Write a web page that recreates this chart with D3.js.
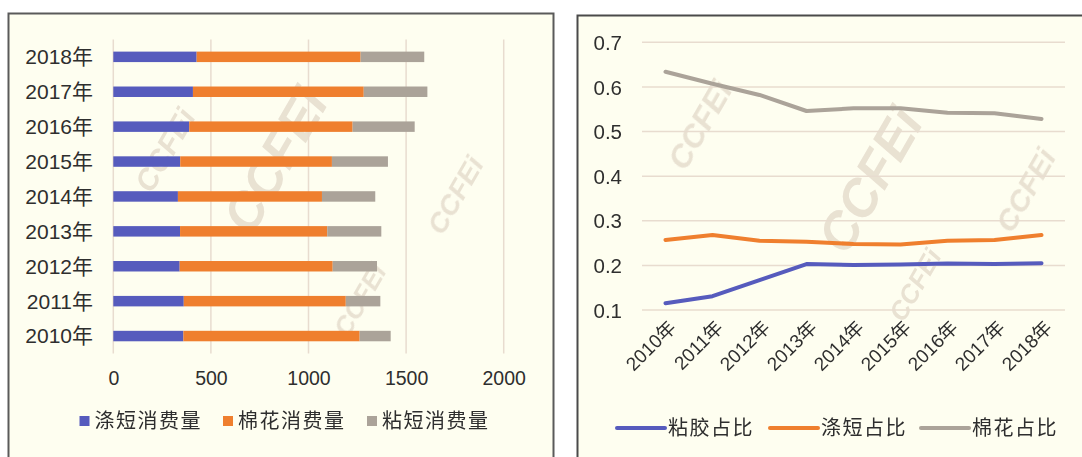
<!DOCTYPE html>
<html><head><meta charset="utf-8">
<script src="https://cdn.jsdelivr.net/npm/d3@7"></script>
<style>
html,body{margin:0;padding:0;background:#fff;}
svg{display:block;font-family:"Liberation Sans","Noto Sans CJK SC",Arial,sans-serif;}
</style></head>
<body>
<svg id="c" width="1082" height="457"></svg>
<script>
// ---- data ----
const years = ["2010年","2011年","2012年","2013年","2014年","2015年","2016年","2017年","2018年"];
const polyester = [359, 361, 340, 342, 331, 343, 389, 408, 427];   // 涤短消费量
const cotton    = [903, 830, 784, 754, 738, 777, 837, 875, 840];   // 棉花消费量
const viscose   = [159, 177, 227, 277, 273, 287, 318, 326, 326];   // 粘短消费量
const barSeries = ["涤短消费量","棉花消费量","粘短消费量"];
const barTicks = [0, 500, 1000, 1500, 2000];

const viscoseShare   = [0.115, 0.131, 0.167, 0.203, 0.201, 0.202, 0.204, 0.203, 0.205]; // 粘胶占比
const polyesterShare = [0.257, 0.268, 0.255, 0.253, 0.248, 0.247, 0.255, 0.257, 0.268]; // 涤短占比
const cottonShare    = [0.634, 0.607, 0.582, 0.546, 0.552, 0.552, 0.542, 0.541, 0.528]; // 棉花占比
const lineSeries = ["粘胶占比","涤短占比","棉花占比"];
const lineTicks = [0.1, 0.2, 0.3, 0.4, 0.5, 0.6, 0.7];

const colors = ["#565bbd", "#ef7f2e", "#aba399"];
const textColor = "#2e2e2e";
const gridColor = "#e8dccf";
const panelFill = "#fefef0";

const svg = d3.select("#c");

// panels
svg.append("rect").attr("x",8.5).attr("y",13.5).attr("width",545).attr("height",460)
  .attr("fill",panelFill).attr("stroke","#5a5a5a").attr("stroke-width",2);
svg.append("rect").attr("x",577.5).attr("y",15.5).attr("width",520).attr("height",460)
  .attr("fill",panelFill).attr("stroke","#4a4a4a").attr("stroke-width",2);

// watermarks
const wm = svg.append("g").attr("fill","#d8cabb").attr("opacity",0.55)
  .attr("font-weight","bold").attr("font-style","italic").attr("font-family","Liberation Sans, Arial, sans-serif");
const marks = [
  [165,150,30],[275,160,52],[455,195,28],[360,300,26],
  [700,125,32],[870,180,52],[1025,190,30],[915,285,26]
];
marks.forEach(m=>{
  wm.append("text").attr("transform",`translate(${m[0]},${m[1]}) rotate(-60)`)
    .attr("text-anchor","middle").attr("dy","0.35em").attr("font-size",m[2]).text("CCFEi");
});

// ---- left: stacked bar chart ----
const x = d3.scaleLinear().domain([0,2000]).range([113.3,503.7]);
const y = d3.scaleBand().domain(years.slice().reverse()).range([39.4,353.5]).paddingInner(0.7).paddingOuter(0.35);

const gL = svg.append("g");
gL.selectAll("line.grid").data(barTicks).join("line")
  .attr("x1",d=>x(d)).attr("x2",d=>x(d)).attr("y1",39.4).attr("y2",353.5)
  .attr("stroke",gridColor).attr("stroke-width",1.5);

const rows = years.map((yr,i)=>({year:yr, "涤短消费量":polyester[i], "棉花消费量":cotton[i], "粘短消费量":viscose[i]}));
const stack = d3.stack().keys(barSeries)(rows);
stack.forEach((s,si)=>{
  gL.append("g").attr("fill",colors[si]).selectAll("rect").data(s).join("rect")
    .attr("x",d=>x(d[0])).attr("width",d=>x(d[1])-x(d[0]))
    .attr("y",d=>y(d.data.year)).attr("height",y.bandwidth());
});

const axB = d3.axisBottom(x).tickValues(barTicks).tickFormat(d3.format("d")).tickSize(0).tickPadding(0);
const gAxB = gL.append("g").attr("transform","translate(0,378)").call(axB);
gAxB.select(".domain").remove();
gAxB.selectAll("text").attr("fill",textColor).attr("font-size",19.5).attr("dy","0.35em")
  .attr("font-family","Liberation Sans, Arial, sans-serif");

const axL = d3.axisLeft(y).tickSize(0).tickPadding(0);
const gAxL = gL.append("g").attr("transform","translate(93,0)").call(axL);
gAxL.select(".domain").remove();
gAxL.selectAll("text").attr("fill",textColor).attr("font-size",21).attr("dy","0.35em")
  .attr("font-family","Liberation Sans, Noto Sans CJK SC, sans-serif");

// left legend
const legL = gL.append("g");
const legLx = [79.5, 223, 367];
barSeries.forEach((s,i)=>{
  legL.append("rect").attr("x",legLx[i]).attr("y",416).attr("width",10).attr("height",10).attr("fill",colors[i]);
  legL.append("text").attr("x",legLx[i]+15).attr("y",421).attr("dy","0.35em")
    .attr("font-size",20).attr("fill",textColor).attr("letter-spacing",1.5)
    .attr("font-family","Noto Sans CJK SC, sans-serif").text(s);
});

// ---- right: line chart ----
const xp = d3.scalePoint().domain(years).range([642,1065]).padding(0.5);
const yl = d3.scaleLinear().domain([0.1,0.7]).range([310,42.3]);

const gR = svg.append("g");
gR.selectAll("line.grid").data(lineTicks).join("line")
  .attr("x1",642).attr("x2",1065).attr("y1",d=>yl(d)).attr("y2",d=>yl(d))
  .attr("stroke",gridColor).attr("stroke-width",1.5);

const axY = d3.axisLeft(yl).tickValues(lineTicks).tickFormat(d3.format(".1f")).tickSize(0).tickPadding(0);
const gAxY = gR.append("g").attr("transform","translate(622,0)").call(axY);
gAxY.select(".domain").remove();
gAxY.selectAll("text").attr("fill",textColor).attr("font-size",20.5).attr("dy","0.35em")
  .attr("font-family","Liberation Sans, Arial, sans-serif");

const axX = d3.axisBottom(xp).tickSize(0).tickPadding(0);
const gAxX = gR.append("g").call(axX);
gAxX.select(".domain").remove();
gAxX.selectAll(".tick").attr("transform",d=>`translate(${xp(d)+7},324)`);
gAxX.selectAll("text").attr("fill",textColor).attr("font-size",19)
  .attr("text-anchor","end").attr("dy","0.35em").attr("y",0)
  .attr("transform","rotate(-45)")
  .attr("font-family","Liberation Sans, Noto Sans CJK SC, sans-serif");

const lineData = [viscoseShare, polyesterShare, cottonShare];
const lineGen = d3.line().x((d,i)=>xp(years[i])).y(d=>yl(d));
lineData.forEach((arr,i)=>{
  gR.append("path").datum(arr).attr("d",lineGen).attr("fill","none")
    .attr("stroke",colors[i]).attr("stroke-width",4).attr("stroke-linejoin","round").attr("stroke-linecap","round");
});

// right legend
const legR = gR.append("g");
const legRx = [617, 770, 921];
lineSeries.forEach((s,i)=>{
  legR.append("line").attr("x1",legRx[i]).attr("x2",legRx[i]+48).attr("y1",428).attr("y2",428)
    .attr("stroke",colors[i]).attr("stroke-width",4).attr("stroke-linecap","round");
  legR.append("text").attr("x",legRx[i]+51).attr("y",428).attr("dy","0.35em")
    .attr("font-size",20).attr("fill",textColor).attr("letter-spacing",1.5)
    .attr("font-family","Noto Sans CJK SC, sans-serif").text(s);
});
</script>
</body></html>
